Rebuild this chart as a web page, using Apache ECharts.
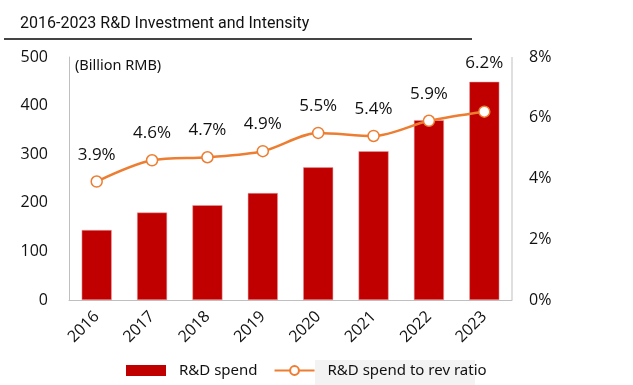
<!DOCTYPE html>
<html><head><meta charset="utf-8">
<script src="https://cdn.jsdelivr.net/npm/echarts@6/dist/echarts.min.js"></script>
<style>html,body{margin:0;padding:0;background:#fff}#c{width:633px;height:385px}</style>
</head><body><div id="c"></div>
<script>
const years = ['2016','2017','2018','2019','2020','2021','2022','2023'];
const rdSpend = [144, 180, 195, 220, 273, 306, 370, 449];
const rdRatio = [3.9, 4.6, 4.7, 4.9, 5.5, 5.4, 5.9, 6.2];
const leftTicks = [0, 100, 200, 300, 400, 500];
const rightTicks = [0, 2, 4, 6, 8];

const chart = echarts.init(document.getElementById('c'));
const font = '"Open Sans", "Noto Sans", sans-serif';
const ratioData = rdRatio.map((v, i) => i === rdRatio.length - 1
  ? { value: v, label: { distance: 34 } }
  : v);
chart.setOption({
  animation: false,
  textStyle: { fontFamily: font },
  title: {
    text: '2016-2023 R&D Investment and Intensity',
    left: 15, top: 11,
    textStyle: { fontFamily: 'Roboto, sans-serif', fontSize: 16, fontWeight: 'normal', color: '#111' }
  },
  graphic: [
    { type: 'line', shape: { x1: 4, y1: 39, x2: 472, y2: 39 }, style: { stroke: '#444', lineWidth: 2 } },
    { type: 'rect', shape: { x: 315, y: 360, width: 160, height: 25 }, style: { fill: '#f3f3f3' }, z: -1 },
    { type: 'text', left: 75, top: 58, style: { text: '(Billion RMB)', font: '14.5px "Noto Sans", sans-serif', fill: '#111' } },
    { type: 'line', shape: { x1: 512, y1: 57, x2: 512, y2: 300 }, style: { stroke: '#bfbfbf', lineWidth: 1 } }
  ],
  legend: {
    bottom: 2, left: 121,
    itemGap: 16, itemWidth: 40, itemHeight: 11,
    textStyle: { fontSize: 15, color: '#111', fontFamily: '"Noto Sans", sans-serif', padding: [0, 0, 0, 8] },
    data: [
      { name: 'R&D spend', icon: 'rect', itemStyle: { borderWidth: 0 } },
      { name: 'R&D spend to rev ratio' }
    ]
  },
  grid: { left: 69, right: 121, top: 57, bottom: 85 },
  xAxis: {
    type: 'category', data: years,
    axisTick: { show: false },
    axisLine: { lineStyle: { color: '#bfbfbf', width: 1 } },
    axisLabel: { rotate: 45, fontSize: 16, color: '#111', margin: 14 }
  },
  yAxis: [
    {
      type: 'value', min: 0, max: 500, interval: 100,
      splitLine: { show: false },
      axisLine: { show: true, lineStyle: { color: '#bfbfbf' } },
      axisTick: { show: false },
      axisLabel: { fontSize: 16, color: '#111', margin: 21 }
    },
    {
      type: 'value', min: 0, max: 8, interval: 2,
      splitLine: { show: false },
      axisLine: { show: false },
      axisTick: { show: false },
      axisLabel: { fontSize: 16, color: '#111', margin: 17, formatter: '{value}%' }
    }
  ],
  series: [
    {
      name: 'R&D spend', type: 'bar', data: rdSpend, barWidth: 30,
      itemStyle: { color: '#C00000', borderColor: '#e8a0a0', borderWidth: 0.5 }
    },
    {
      name: 'R&D spend to rev ratio', type: 'line', yAxisIndex: 1, data: ratioData,
      smooth: 0.3, symbol: 'circle', symbolSize: 11,
      lineStyle: { color: '#ED7D31', width: 2.5 },
      itemStyle: { color: '#fff', borderColor: '#ED7D31', borderWidth: 1.5 },
      label: { show: true, position: 'top', distance: 12, fontSize: 17, color: '#111',
        formatter: p => (typeof p.value === 'number' ? p.value : p.data.value).toFixed(1) + '%' }
    }
  ]
});
</script></body></html>
